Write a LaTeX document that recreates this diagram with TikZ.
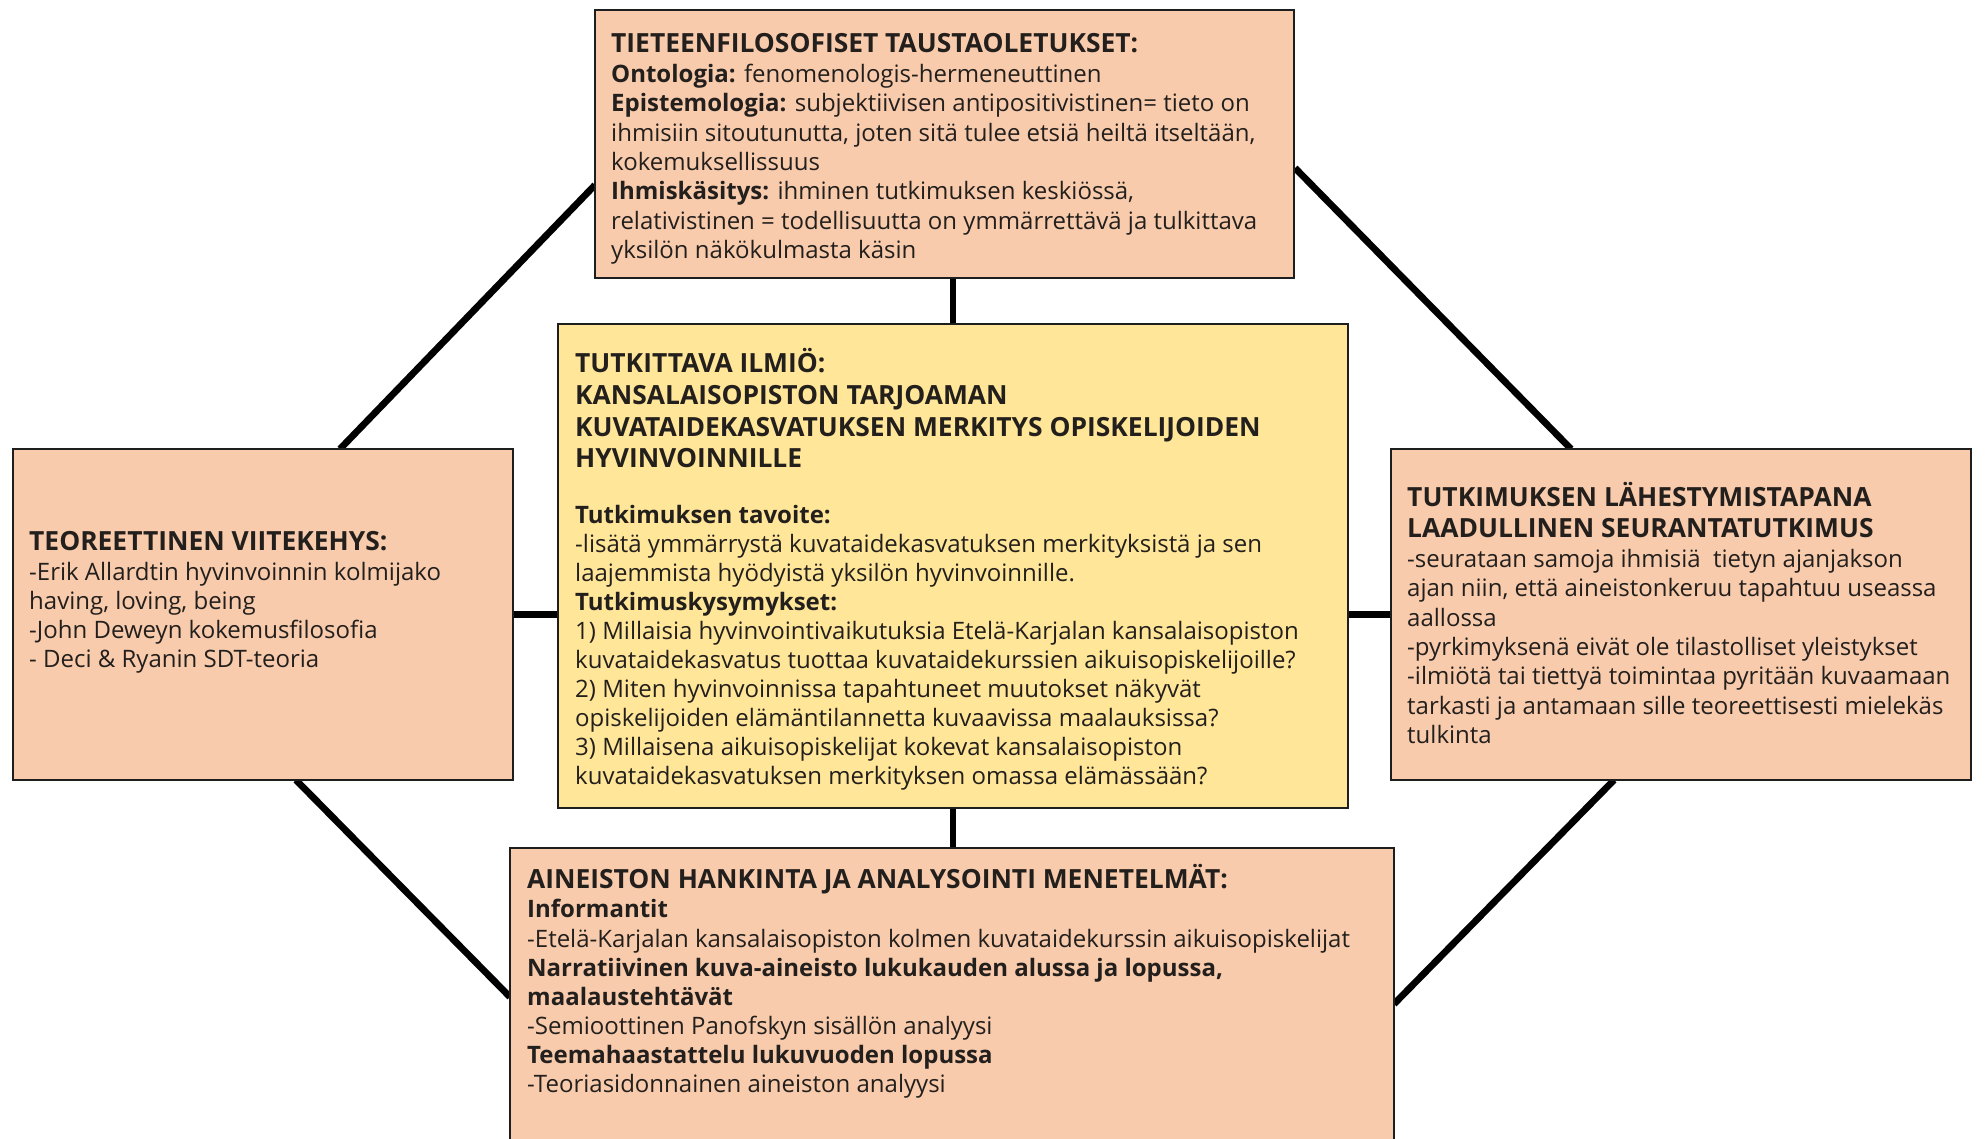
\documentclass[tikz,border=0pt]{standalone}
\usepackage{fontspec}
\setmainfont{Open Sans}
\usetikzlibrary{backgrounds}
\definecolor{peach}{HTML}{F8CBAD}
\definecolor{gold}{HTML}{FFE699}
\definecolor{ink}{HTML}{1E1E1E}
\definecolor{txt}{HTML}{231F1C}
\newcommand{\captitle}[1]{{\bfseries\fontsize{26.4}{29.3}\selectfont #1}}
\newcommand{\bodyfont}{\fontsize{24}{29.3}\selectfont\lineskip=0pt\relax\lineskiplimit=-100pt\relax}
\newcommand{\botfont}{\fontsize{24}{29.05}\selectfont\lineskip=0pt\relax\lineskiplimit=-100pt\relax}
\newcommand{\midfont}{\fontsize{24}{29}\selectfont\lineskip=0pt\relax\lineskiplimit=-100pt\relax}
\newcommand{\midtitlefont}{\bfseries\fontsize{26.4}{31.6}\selectfont\lineskip=0pt\relax\lineskiplimit=-100pt\relax}
\begin{document}
\begin{tikzpicture}[x=1pt,y=-1pt,
  boxbase/.style={draw=ink, line width=2.5pt, inner sep=0pt, outer sep=0pt, rectangle},
  peachbox/.style={boxbase, fill=peach},
  goldbox/.style={boxbase, fill=gold},
  body/.style={anchor=north west, inner sep=0pt, align=left, text=txt, font=\bodyfont},
  link/.style={draw=black, line width=6.8pt}]
\clip (0,0) rectangle (1985,1139);
% boxes
\node[peachbox, minimum width=699, minimum height=268] (top) at (944.5,144) {};
\node[goldbox, minimum width=790, minimum height=484] (mid) at (953,566) {};
\node[peachbox, minimum width=500, minimum height=331] (left) at (263,614.5) {};
\node[peachbox, minimum width=580, minimum height=331] (right) at (1681,614.5) {};
\node[peachbox, minimum width=884, minimum height=312] (bot) at (952,1004) {};
% connector end points on box edges
\coordinate (tl1) at (340,449);  \coordinate (tl2) at (595,185);
\coordinate (tr1) at (1295,168); \coordinate (tr2) at (1571,449);
\coordinate (bl1) at (296,780);  \coordinate (bl2) at (510,997);
\coordinate (br1) at (1614,780); \coordinate (br2) at (1394,1004);
\begin{scope}[on background layer]
\fill[white] (0,0) rectangle (1985,1139);
\draw[link] (tl1) -- (tl2);
\draw[link] (tr1) -- (tr2);
\draw[link] (bl1) -- (bl2);
\draw[link] (br1) -- (br2);
\draw[link] (top.south -| mid.north) -- (mid.north);
\draw[link] (mid.south) -- (mid.south |- bot.north);
\draw[link] (left.east) -- (left.east -| mid.west);
\draw[link] (right.west -| mid.east) -- (right.west);
\end{scope}
% texts
\node[body] (ttop) at (611,31.5) {\strut\captitle{TIETEENFILOSOFISET TAUSTAOLETUKSET:}\\[1pt]
\textbf{Ontologia:} fenomenologis-hermeneuttinen\\
\textbf{Epistemologia:} subjektiivisen antipositivistinen= tieto on\\
ihmisiin sitoutunutta, joten sitä tulee etsiä heiltä itseltään,\\
kokemuksellissuus\\
\textbf{Ihmiskäsitys:} ihminen tutkimuksen keskiössä,\\
relativistinen = todellisuutta on ymmärrettävä ja tulkittava\\
yksilön näkökulmasta käsin};
\node[body, font=\midtitlefont] (tmidtitle) at (575,348.5) {\strut TUTKITTAVA ILMIÖ:\\
KANSALAISOPISTON TARJOAMAN\\
KUVATAIDEKASVATUKSEN MERKITYS OPISKELIJOIDEN\\
HYVINVOINNILLE};
\node[body, font=\midfont] (tmid) at (575,502.5) {\strut\textbf{Tutkimuksen tavoite:}\\
-lisätä ymmärrystä kuvataidekasvatuksen merkityksistä ja sen\\
laajemmista hyödyistä yksilön hyvinvoinnille.\\
\textbf{Tutkimuskysymykset:}\\
1) Millaisia hyvinvointivaikutuksia Etelä-Karjalan kansalaisopiston\\
kuvataidekasvatus tuottaa kuvataidekurssien aikuisopiskelijoille?\\
2) Miten hyvinvoinnissa tapahtuneet muutokset näkyvät\\
opiskelijoiden elämäntilannetta kuvaavissa maalauksissa?\\
3) Millaisena aikuisopiskelijat kokevat kansalaisopiston\\
kuvataidekasvatuksen merkityksen omassa elämässään?};
\node[body] (tleft) at (29,530) {\strut\captitle{TEOREETTINEN VIITEKEHYS:}\\[0pt]
-Erik Allardtin hyvinvoinnin kolmijako\\
having, loving, being\\
-John Deweyn kokemusfilosofia\\
- Deci \& Ryanin SDT-teoria};
\node[body] (tright) at (1407,482) {\strut\captitle{TUTKIMUKSEN LÄHESTYMISTAPANA}\\[1.5pt]
\captitle{LAADULLINEN SEURANTATUTKIMUS}\\[1pt]
-seurataan samoja ihmisiä\ \ tietyn ajanjakson\\
ajan niin, että aineistonkeruu tapahtuu useassa\\
aallossa\\
-pyrkimyksenä eivät ole tilastolliset yleistykset\\
-ilmiötä tai tiettyä toimintaa pyritään kuvaamaan\\
tarkasti ja antamaan sille teoreettisesti mielekäs\\
tulkinta};
\node[body, font=\botfont] (tbot) at (527,864.5) {\strut\captitle{AINEISTON HANKINTA JA ANALYSOINTI MENETELMÄT:}\\[0pt]
\textbf{Informantit}\\
-Etelä-Karjalan kansalaisopiston kolmen kuvataidekurssin aikuisopiskelijat\\
\textbf{Narratiivinen kuva-aineisto lukukauden alussa ja lopussa,}\\
\textbf{maalaustehtävät}\\
-Semioottinen Panofskyn sisällön analyysi\\
\textbf{Teemahaastattelu lukuvuoden lopussa}\\
-Teoriasidonnainen aineiston analyysi};
\end{tikzpicture}
\end{document}
